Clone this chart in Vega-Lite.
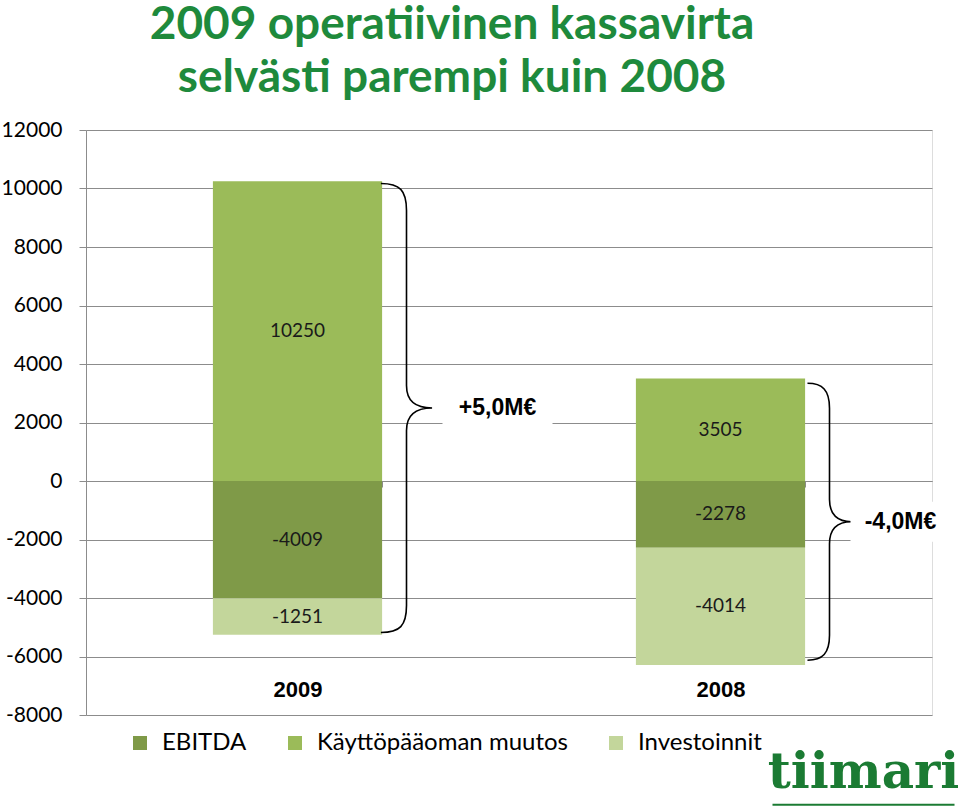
{
  "$schema": "https://vega.github.io/schema/vega-lite/v6.json",
  "width": 846,
  "height": 585,
  "autosize": {"type": "none"},
  "padding": {"left": 86, "top": 130, "right": 28, "bottom": 91},
  "background": "white",
  "title": {
    "text": ["2009 operatiivinen kassavirta", "selvästi parempi kuin 2008"],
    "font": "Lato",
    "fontSize": 46,
    "fontWeight": "bold",
    "color": "#1e8a3c",
    "anchor": "middle",
    "frame": "group",
    "dx": -57,
    "offset": 17,
    "lineHeight": 53
  },
  "datasets": {
    "kassavirta": [
      {"vuosi": "2009", "erä": "Käyttöpääoman muutos", "arvo": 10250},
      {"vuosi": "2009", "erä": "EBITDA", "arvo": -4009},
      {"vuosi": "2009", "erä": "Investoinnit", "arvo": -1251},
      {"vuosi": "2008", "erä": "Käyttöpääoman muutos", "arvo": 3505},
      {"vuosi": "2008", "erä": "EBITDA", "arvo": -2278},
      {"vuosi": "2008", "erä": "Investoinnit", "arvo": -4014}
    ],
    "muutokset": [
      {"vuosi": "2009", "teksti": "+5,0M€", "keskikohta": 2495},
      {"vuosi": "2008", "teksti": "-4,0M€", "keskikohta": -1393}
    ],
    "logo": [
      {"vuosi": "2008", "teksti": "tiimari", "taso": -10500, "viiva": -11070}
    ]
  },
  "data": {"name": "kassavirta"},
  "encoding": {
    "x": {
      "field": "vuosi",
      "type": "nominal",
      "sort": ["2009", "2008"],
      "scale": {"paddingInner": 0.6, "paddingOuter": 0.3},
      "axis": {
        "title": null,
        "orient": "bottom",
        "offset": -234,
        "domainColor": "#8c8c8c",
        "tickColor": "#8c8c8c",
        "tickBand": "extent",
        "tickSize": 6,
        "labelAngle": 0,
        "labelFont": "Liberation Sans",
        "labelFontWeight": "bold",
        "labelFontSize": 22,
        "labelColor": "black",
        "labelPadding": 192,
        "grid": false
      }
    }
  },
  "layer": [
    {
      "mark": {"type": "bar"},
      "encoding": {
        "y": {
          "field": "arvo",
          "type": "quantitative",
          "stack": "zero",
          "scale": {"domain": [-8000, 12000], "nice": false, "zero": false},
          "axis": {
            "title": null,
            "values": [-8000, -6000, -4000, -2000, 0, 2000, 4000, 6000, 8000, 10000, 12000],
            "labelExpr": "datum.value + ''",
            "grid": true,
            "gridColor": "#8c8c8c",
            "gridWidth": 1,
            "domainColor": "#8c8c8c",
            "tickColor": "#8c8c8c",
            "tickSize": 7,
            "labelFont": "Lato",
            "labelFontSize": 21,
            "labelColor": "black",
            "labelPadding": 17
          }
        },
        "order": {"field": "erä", "type": "nominal", "sort": "ascending"},
        "color": {
          "field": "erä",
          "type": "nominal",
          "scale": {
            "domain": ["EBITDA", "Käyttöpääoman muutos", "Investoinnit"],
            "range": ["#7f9a48", "#9bbb59", "#c3d69b"]
          },
          "legend": {
            "title": null,
            "orient": "none",
            "legendX": 42,
            "legendY": 601,
            "direction": "horizontal",
            "padding": 0,
            "symbolType": "square",
            "symbolSize": 196,
            "symbolStrokeWidth": 0,
            "labelFont": "Lato",
            "labelFontSize": 24,
            "labelColor": "black",
            "labelOffset": 10,
            "labelLimit": 500,
            "columnPadding": 36
          }
        }
      }
    },
    {
      "mark": {"type": "text", "font": "Lato", "fontSize": 19, "color": "#1a1a1a", "baseline": "middle"},
      "encoding": {
        "y": {"field": "arvo", "type": "quantitative", "stack": "zero", "bandPosition": 0.5},
        "detail": {"field": "erä"},
        "order": {"field": "erä", "type": "nominal", "sort": "ascending"},
        "text": {"field": "arvo", "type": "nominal"}
      }
    },
    {
      "data": {"name": "muutokset"},
      "mark": {"type": "point", "filled": false, "stroke": "black", "strokeWidth": 1.6, "opacity": 1, "xOffset": 109},
      "encoding": {
        "y": {"field": "keskikohta", "type": "quantitative"},
        "shape": {
          "field": "vuosi",
          "type": "nominal",
          "scale": {
            "domain": ["2009", "2008"],
            "range": [
              "M-0.114,-1C-0.03,-1 0,-0.97 0,-0.88L0,-0.1C0,-0.03 0.04,0 0.114,0C0.04,0 0,0.03 0,0.1L0,0.88C0,0.97 -0.03,1 -0.114,1",
              "M-0.159,-1C-0.05,-1 0,-0.95 0,-0.82L0,-0.16C0,-0.05 0.06,0 0.159,0C0.06,0 0,0.05 0,0.16L0,0.82C0,0.95 -0.05,1 -0.159,1"
            ]
          },
          "legend": null
        },
        "size": {
          "field": "vuosi",
          "type": "ordinal",
          "scale": {"domain": ["2009", "2008"], "range": [201601, 76729]},
          "legend": null
        }
      }
    },
    {
      "data": {"name": "muutokset"},
      "transform": [{"filter": "datum.vuosi == '2009'"}],
      "layer": [
        {
          "mark": {"type": "point", "shape": "M-1,-0.4H1V0.4H-1Z", "filled": true, "color": "white", "opacity": 1, "size": 12100, "xOffset": 200},
          "encoding": {"y": {"field": "keskikohta", "type": "quantitative"}}
        },
        {
          "mark": {"type": "text", "font": "Liberation Sans", "fontWeight": "bold", "fontSize": 23, "color": "black", "baseline": "middle", "xOffset": 200},
          "encoding": {"y": {"field": "keskikohta", "type": "quantitative"}, "text": {"field": "teksti"}}
        }
      ]
    },
    {
      "data": {"name": "muutokset"},
      "transform": [{"filter": "datum.vuosi == '2008'"}],
      "layer": [
        {
          "mark": {"type": "point", "shape": "M-1,-0.4H1V0.4H-1Z", "filled": true, "color": "white", "opacity": 1, "size": 10000, "xOffset": 180},
          "encoding": {"y": {"field": "keskikohta", "type": "quantitative"}}
        },
        {
          "mark": {"type": "text", "font": "Liberation Sans", "fontWeight": "bold", "fontSize": 23, "color": "black", "baseline": "middle", "xOffset": 180},
          "encoding": {"y": {"field": "keskikohta", "type": "quantitative"}, "text": {"field": "teksti"}}
        }
      ]
    },
    {
      "data": {"name": "logo"},
      "layer": [
        {
          "mark": {"type": "text", "font": "DejaVu Serif", "fontWeight": "bold", "fontSize": 50, "color": "#1b7b33", "baseline": "alphabetic", "align": "center", "xOffset": 143},
          "encoding": {"y": {"field": "taso", "type": "quantitative"}, "text": {"field": "teksti"}}
        },
        {
          "mark": {"type": "rule", "color": "#1b7b33", "strokeWidth": 2, "xOffset": 52, "x2Offset": 234},
          "encoding": {
            "y": {"field": "viiva", "type": "quantitative"},
            "x2": {"field": "vuosi"}
          }
        }
      ]
    }
  ]
}
